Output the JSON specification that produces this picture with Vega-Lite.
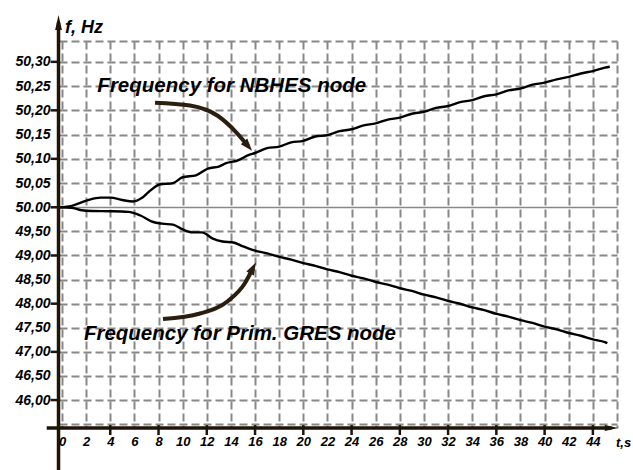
{
  "$schema": "https://vega.github.io/schema/vega-lite/v6.json",
  "autosize": {"type": "none"},
  "width": 558,
  "height": 387,
  "padding": {"left": 59, "top": 41, "right": 16, "bottom": 42},
  "background": "#ffffff",
  "config": {"view": {"stroke": null}, "axis": {"labelOverlap": false, "labelFlush": false, "labelBound": false}},
  "datasets": {
    "curves": [
      {"series": "NBHES", "t": -0.2, "f": 50.0},
      {"series": "NBHES", "t": 0.8, "f": 50.003},
      {"series": "NBHES", "t": 1.5, "f": 50.009},
      {"series": "NBHES", "t": 2.3, "f": 50.016},
      {"series": "NBHES", "t": 3.2, "f": 50.02},
      {"series": "NBHES", "t": 4, "f": 50.02},
      {"series": "NBHES", "t": 5, "f": 50.015},
      {"series": "NBHES", "t": 5.9, "f": 50.012},
      {"series": "NBHES", "t": 6.6, "f": 50.019},
      {"series": "NBHES", "t": 7.2, "f": 50.032},
      {"series": "NBHES", "t": 8.1, "f": 50.047},
      {"series": "NBHES", "t": 9.2, "f": 50.05},
      {"series": "NBHES", "t": 10, "f": 50.062},
      {"series": "NBHES", "t": 11.1, "f": 50.066},
      {"series": "NBHES", "t": 12.1, "f": 50.08},
      {"series": "NBHES", "t": 13, "f": 50.084},
      {"series": "NBHES", "t": 13.6, "f": 50.091},
      {"series": "NBHES", "t": 14.5, "f": 50.096},
      {"series": "NBHES", "t": 15.5, "f": 50.108},
      {"series": "NBHES", "t": 16, "f": 50.112},
      {"series": "NBHES", "t": 17, "f": 50.122},
      {"series": "NBHES", "t": 18, "f": 50.125},
      {"series": "NBHES", "t": 19, "f": 50.134},
      {"series": "NBHES", "t": 20, "f": 50.137},
      {"series": "NBHES", "t": 21, "f": 50.146},
      {"series": "NBHES", "t": 22, "f": 50.149},
      {"series": "NBHES", "t": 23, "f": 50.157},
      {"series": "NBHES", "t": 24, "f": 50.161},
      {"series": "NBHES", "t": 25, "f": 50.169},
      {"series": "NBHES", "t": 26, "f": 50.173},
      {"series": "NBHES", "t": 27, "f": 50.181},
      {"series": "NBHES", "t": 28, "f": 50.185},
      {"series": "NBHES", "t": 29, "f": 50.193},
      {"series": "NBHES", "t": 30, "f": 50.197},
      {"series": "NBHES", "t": 31, "f": 50.205},
      {"series": "NBHES", "t": 32, "f": 50.209},
      {"series": "NBHES", "t": 33, "f": 50.217},
      {"series": "NBHES", "t": 34, "f": 50.221},
      {"series": "NBHES", "t": 35, "f": 50.229},
      {"series": "NBHES", "t": 36, "f": 50.233},
      {"series": "NBHES", "t": 37, "f": 50.241},
      {"series": "NBHES", "t": 38, "f": 50.245},
      {"series": "NBHES", "t": 39, "f": 50.253},
      {"series": "NBHES", "t": 40, "f": 50.257},
      {"series": "NBHES", "t": 41, "f": 50.264},
      {"series": "NBHES", "t": 42, "f": 50.269},
      {"series": "NBHES", "t": 43, "f": 50.276},
      {"series": "NBHES", "t": 44, "f": 50.281},
      {"series": "NBHES", "t": 45, "f": 50.288},
      {"series": "NBHES", "t": 45.4, "f": 50.29},
      {"series": "GRES", "t": -0.2, "f": 50.0},
      {"series": "GRES", "t": 0.8, "f": 49.99},
      {"series": "GRES", "t": 1.5, "f": 49.945},
      {"series": "GRES", "t": 2.5, "f": 49.922},
      {"series": "GRES", "t": 4, "f": 49.918},
      {"series": "GRES", "t": 5.5, "f": 49.905},
      {"series": "GRES", "t": 6.5, "f": 49.83},
      {"series": "GRES", "t": 7.5, "f": 49.7},
      {"series": "GRES", "t": 8.3, "f": 49.66},
      {"series": "GRES", "t": 9.2, "f": 49.64},
      {"series": "GRES", "t": 10, "f": 49.54},
      {"series": "GRES", "t": 10.8, "f": 49.48},
      {"series": "GRES", "t": 11.6, "f": 49.48},
      {"series": "GRES", "t": 12.5, "f": 49.35},
      {"series": "GRES", "t": 13.3, "f": 49.29},
      {"series": "GRES", "t": 14.2, "f": 49.27},
      {"series": "GRES", "t": 15, "f": 49.19},
      {"series": "GRES", "t": 16, "f": 49.1},
      {"series": "GRES", "t": 17, "f": 49.045},
      {"series": "GRES", "t": 18, "f": 48.97},
      {"series": "GRES", "t": 19, "f": 48.915},
      {"series": "GRES", "t": 20, "f": 48.84},
      {"series": "GRES", "t": 21, "f": 48.785},
      {"series": "GRES", "t": 22, "f": 48.71},
      {"series": "GRES", "t": 23, "f": 48.655},
      {"series": "GRES", "t": 24, "f": 48.58},
      {"series": "GRES", "t": 25, "f": 48.525},
      {"series": "GRES", "t": 26, "f": 48.45},
      {"series": "GRES", "t": 27, "f": 48.395},
      {"series": "GRES", "t": 28, "f": 48.32},
      {"series": "GRES", "t": 29, "f": 48.264},
      {"series": "GRES", "t": 30, "f": 48.187},
      {"series": "GRES", "t": 31, "f": 48.131},
      {"series": "GRES", "t": 32, "f": 48.055},
      {"series": "GRES", "t": 33, "f": 47.998},
      {"series": "GRES", "t": 34, "f": 47.922},
      {"series": "GRES", "t": 35, "f": 47.866},
      {"series": "GRES", "t": 36, "f": 47.789},
      {"series": "GRES", "t": 37, "f": 47.733},
      {"series": "GRES", "t": 38, "f": 47.657},
      {"series": "GRES", "t": 39, "f": 47.6},
      {"series": "GRES", "t": 40, "f": 47.524},
      {"series": "GRES", "t": 41, "f": 47.468},
      {"series": "GRES", "t": 42, "f": 47.391},
      {"series": "GRES", "t": 43, "f": 47.335},
      {"series": "GRES", "t": 44, "f": 47.259},
      {"series": "GRES", "t": 45, "f": 47.202},
      {"series": "GRES", "t": 45.2, "f": 47.18}
    ],
    "arrows": [
      {"arrow": "upper", "t": 7.71, "f": 50.2158},
      {"arrow": "upper", "t": 10.61, "f": 50.21},
      {"arrow": "upper", "t": 12.93, "f": 50.1883},
      {"arrow": "upper", "t": 14.42, "f": 50.1553},
      {"arrow": "upper", "t": 15.42, "f": 50.1264},
      {"arrow": "lower", "t": 8.37, "f": 47.682},
      {"arrow": "lower", "t": 11.44, "f": 47.796},
      {"arrow": "lower", "t": 13.76, "f": 48.056},
      {"arrow": "lower", "t": 15.17, "f": 48.43},
      {"arrow": "lower", "t": 15.83, "f": 48.74}
    ],
    "notes": [
      {"label": "Frequency for NBHES node", "t": 14.07, "f": 50.2385},
      {"label": "Frequency for Prim. GRES node", "t": 14.75, "f": 47.246}
    ],
    "yticks": [
      {"f": 46}, {"f": 47}, {"f": 48}, {"f": 49}, {"f": 50}, {"f": 50.1}, {"f": 50.2}, {"f": 50.3}
    ],
    "xticks": [
      {"t": 4}, {"t": 8}, {"t": 12}, {"t": 16}, {"t": 20}, {"t": 24}, {"t": 28}, {"t": 32}, {"t": 36}, {"t": 40}, {"t": 44}
    ]
  },
  "layer": [
    {
      "data": {"name": "curves"},
      "mark": {"type": "line", "color": "#000000", "strokeWidth": 2.4, "interpolate": "monotone"},
      "encoding": {
        "x": {
          "field": "t", "type": "quantitative",
          "scale": {"domain": [-0.25, 46], "nice": false, "zero": false},
          "axis": {
            "title": null, "domain": false, "orient": "bottom", "tickCount": 200, "ticks": true,
            "values": [0, 2, 4, 6, 8, 10, 12, 14, 16, 18, 20, 22, 24, 26, 28, 30, 32, 34, 36, 38, 40, 42, 44, 46],
            "labelExpr": "datum.value > 45 ? '' : format(datum.value, 'd')",
            "labelFont": "Liberation Sans", "labelFontStyle": "italic", "labelFontWeight": "bold",
            "labelFontSize": 13, "labelColor": "#000000", "labelPadding": 0,
            "labelOverlap": false, "labelFlush": false,
            "tickSize": 7, "tickWidth": 2.5, "tickOpacity": 0,
            "grid": true, "gridColor": "#888888", "gridWidth": 2, "gridDash": [8, 4]
          }
        },
        "y": {
          "field": "f", "type": "quantitative",
          "scale": {"domain": [45.42, 50, 50.343], "range": [387, 166.3, 0], "nice": false, "zero": false},
          "axis": {
            "title": null, "domain": false, "orient": "left", "tickCount": 200, "ticks": true,
            "values": [45.5, 46, 46.5, 47, 47.5, 48, 48.5, 49, 49.5, 50, 50.05, 50.1, 50.15, 50.2, 50.25, 50.3, 50.343],
            "labelExpr": "datum.value < 45.9 || datum.value > 50.32 ? '' : (datum.value == 50 ? '50.00' : replace(format(datum.value, '.2f'), '.', ','))",
            "labelFont": "Liberation Sans", "labelFontStyle": "italic", "labelFontWeight": "bold",
            "labelFontSize": 14, "labelColor": "#000000", "labelPadding": 1,
            "labelOverlap": false, "labelFlush": false,
            "tickSize": 8, "tickWidth": 2.5, "tickOpacity": 0,
            "grid": true, "gridColor": "#888888",
            "gridWidth": {"condition": {"test": "datum.value == 50", "value": 1.5}, "value": 2},
            "gridDash": {"condition": {"test": "datum.value == 50", "value": [1, 0]}, "value": [8, 4]}
          }
        },
        "detail": {"field": "series", "type": "nominal"}
      }
    },
    {
      "data": {"name": "arrows"},
      "mark": {"type": "line", "color": "#2b1d0f", "strokeWidth": 4, "interpolate": "monotone"},
      "encoding": {
        "x": {"field": "t", "type": "quantitative"},
        "y": {"field": "f", "type": "quantitative"},
        "detail": {"field": "arrow", "type": "nominal"}
      }
    },
    {
      "data": {"values": [{}]},
      "mark": {"type": "point", "shape": "M0,-1L0.7,1L-0.7,1Z", "filled": true, "color": "#2b1d0f", "opacity": 1, "size": 150, "angle": 139},
      "encoding": {"x": {"datum": 15.42, "type": "quantitative"}, "y": {"datum": 50.1264, "type": "quantitative"}}
    },
    {
      "data": {"values": [{}]},
      "mark": {"type": "point", "shape": "M0,-1L0.7,1L-0.7,1Z", "filled": true, "color": "#2b1d0f", "opacity": 1, "size": 150, "angle": 28},
      "encoding": {"x": {"datum": 15.83, "type": "quantitative"}, "y": {"datum": 48.74, "type": "quantitative"}}
    },
    {
      "data": {"name": "yticks"},
      "mark": {"type": "rule", "color": "#1f1408", "strokeWidth": 2.5},
      "encoding": {
        "y": {"field": "f", "type": "quantitative"},
        "x": {"datum": -0.95, "type": "quantitative"},
        "x2": {"datum": -0.29}
      }
    },
    {
      "data": {"name": "xticks"},
      "mark": {"type": "rule", "color": "#1f1408", "strokeWidth": 2.5},
      "encoding": {
        "x": {"field": "t", "type": "quantitative"},
        "y": {"datum": 45.48, "type": "quantitative"},
        "y2": {"datum": 45.275}
      }
    },
    {
      "data": {"values": [{}]},
      "mark": {"type": "rule", "color": "#1f1408", "strokeWidth": 3.5},
      "encoding": {
        "x": {"datum": -0.29, "type": "quantitative"},
        "y": {"datum": 44.55, "type": "quantitative"},
        "y2": {"datum": 50.381}
      }
    },
    {
      "data": {"values": [{}]},
      "mark": {"type": "rule", "color": "#1f1408", "strokeWidth": 3.5},
      "encoding": {
        "y": {"datum": 45.42, "type": "quantitative"},
        "x": {"datum": -1.27, "type": "quantitative"},
        "x2": {"datum": 45.54}
      }
    },
    {
      "data": {"values": [{}]},
      "mark": {"type": "point", "shape": "M0,-1L0.45,1L-0.45,1Z", "filled": true, "color": "#1f1408", "opacity": 1, "size": 225},
      "encoding": {"x": {"datum": -0.29, "type": "quantitative"}, "y": {"datum": 50.381, "type": "quantitative"}}
    },
    {
      "data": {"values": [{}]},
      "mark": {"type": "point", "shape": "M1,0L-1,-0.45L-1,0.45Z", "filled": true, "color": "#1f1408", "opacity": 1, "size": 180},
      "encoding": {"x": {"datum": 45.54, "type": "quantitative"}, "y": {"datum": 45.42, "type": "quantitative"}}
    },
    {
      "data": {"name": "notes"},
      "mark": {"type": "text", "font": "Liberation Sans", "fontStyle": "italic", "fontWeight": "bold", "fontSize": 20.5, "color": "#000000", "align": "center", "baseline": "alphabetic"},
      "encoding": {
        "x": {"field": "t", "type": "quantitative"},
        "y": {"field": "f", "type": "quantitative"},
        "text": {"field": "label", "type": "nominal"}
      }
    },
    {
      "data": {"values": [{"label": "f, Hz", "t": 0.25, "f": 50.36}]},
      "mark": {"type": "text", "font": "Liberation Sans", "fontStyle": "italic", "fontWeight": "bold", "fontSize": 18, "color": "#000000", "align": "left", "baseline": "alphabetic"},
      "encoding": {
        "x": {"field": "t", "type": "quantitative"},
        "y": {"field": "f", "type": "quantitative"},
        "text": {"field": "label", "type": "nominal"}
      }
    },
    {
      "data": {"values": [{"label": "t,s", "t": 45.92, "f": 45.032}]},
      "mark": {"type": "text", "font": "Liberation Sans", "fontStyle": "italic", "fontWeight": "bold", "fontSize": 13, "color": "#000000", "align": "left", "baseline": "alphabetic"},
      "encoding": {
        "x": {"field": "t", "type": "quantitative"},
        "y": {"field": "f", "type": "quantitative"},
        "text": {"field": "label", "type": "nominal"}
      }
    }
  ]
}
